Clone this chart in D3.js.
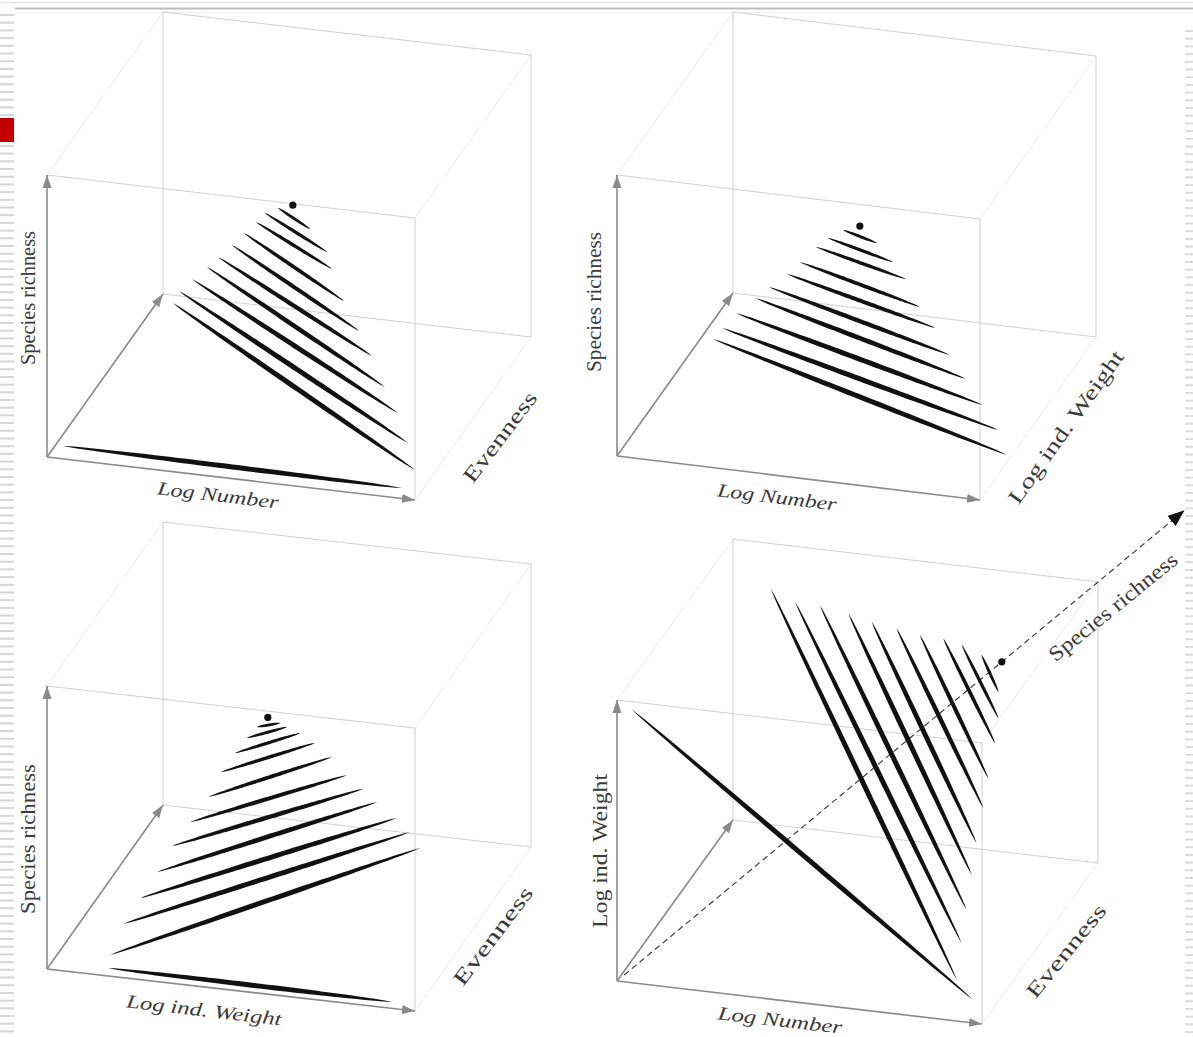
<!DOCTYPE html>
<html>
<head>
<meta charset="utf-8">
<script src="https://cdn.jsdelivr.net/npm/d3@7"></script>
<style>
  body { margin: 0; background: #fff; }
  svg { display: block; }
</style>
</head>
<body>
<svg id="chart" width="1193" height="1037"></svg>
<script>
// every point is [x, y, z] in percent of the box: x = front axis, y = vertical axis, z = depth axis

// panel 1 : Log Number / Species richness / Evenness
var p1Peak = [66.8, 99.5, 0]
var p1Lines = [
  [[62.8, 97.9, 0], [71.5, 91.7, 0]],
  [[59.2, 95.6, 0], [76.1, 84.3, 0]],
  [[56.8, 92.0, 0], [77.4, 78.5, 0]],
  [[53.5, 87.6, 0], [80.7, 67.6, 0]],
  [[50.3, 82.8, 0], [84.8, 57.6, 0]],
  [[46.5, 78.0, 0], [88.3, 49.3, 0]],
  [[43.5, 74.0, 0], [91.8, 38.8, 0]],
  [[39.4, 69.1, 0], [95.4, 30.1, 0]],
  [[35.9, 64.3, 0], [98.1, 19.9, 0]],
  [[34.2, 59.8, 0], [100.0, 10.6, 0]]
]
var p1Base = [[4.3, 4.6, 0], [96.5, 3.7, 0]]

// panel 2 : Log Number / Species richness / Log ind. Weight
var p2Peak = [66.9, 92.3, 0]
var p2Lines = [
  [[62.3, 90.2, 0], [71.6, 87.0, 0]],
  [[58.1, 86.7, 0], [76.0, 80.9, 0]],
  [[54.8, 83.0, 0], [79.6, 75.4, 0]],
  [[50.4, 76.9, 0], [83.5, 66.1, 0]],
  [[46.8, 72.1, 0], [87.6, 59.3, 0]],
  [[41.9, 66.7, 0], [91.7, 50.3, 0]],
  [[38.0, 62.2, 0], [96.1, 42.5, 0]],
  [[32.8, 56.0, 0], [100.8, 33.9, 0]],
  [[28.9, 50.1, 0], [105.0, 25.7, 0]],
  [[26.4, 45.8, 0], [107.4, 17.2, 0]]
]

// panel 3 : Log ind. Weight / Species richness / Evenness
var p3Peak = [60.0, 97.8, 0]
var p3Lines = [
  [[57.1, 94.0, 0], [63.3, 96.3, 0]],
  [[54.3, 89.7, 0], [65.2, 95.2, 0]],
  [[51.1, 83.9, 0], [68.8, 93.6, 0]],
  [[47.3, 76.6, 0], [72.8, 90.7, 0]],
  [[43.8, 67.3, 0], [77.4, 86.4, 0]],
  [[38.9, 57.7, 0], [81.5, 80.6, 0]],
  [[34.0, 48.5, 0], [85.9, 76.4, 0]],
  [[29.9, 38.7, 0], [89.7, 72.3, 0]],
  [[25.3, 28.8, 0], [95.1, 67.5, 0]],
  [[20.7, 19.0, 0], [98.6, 63.0, 0]],
  [[17.1, 7.5, 0], [101.4, 57.8, 0]]
]
var p3Base = [[16.6, 2.8, 0], [93.8, 2.3, 0]]

// panel 4 : Log Number / Log ind. Weight / Evenness, species richness on the diagonal
var p4Cross = [[4.0, 97.3, 0], [97.6, 8.2, 0]]
var p4Lines = [
  [[10.3, 84.0, 100], [93.1, 14.6, 0]],
  [[17.0, 80.3, 100], [94.4, 27.9, 0]],
  [[23.8, 80.1, 100], [95.8, 39.9, 0]],
  [[31.6, 78.4, 100], [97.2, 52.6, 0]],
  [[38.0, 76.4, 100], [98.5, 64.1, 0]],
  [[44.8, 75.1, 100], [100.4, 76.8, 0]],
  [[51.2, 73.7, 100], [101.7, 87.7, 0]],
  [[57.6, 73.5, 100], [103.6, 100.4, 0]],
  [[62.7, 71.9, 100], [104.5, 109.5, 0]],
  [[68.1, 69.1, 100], [104.5, 118.9, 0]]
]
var p4RichAxis = [[1.5, 1.5, 1.5], [118, 118, 118]]
var p4Peak = [80, 80, 80]

var axisNames = [
  ['Log Number', 'Species richness', 'Evenness'],
  ['Log Number', 'Species richness', 'Log ind. Weight'],
  ['Log ind. Weight', 'Species richness', 'Evenness'],
  ['Log Number', 'Log ind. Weight', 'Evenness']
]

// layout of the four boxes (oblique projection)
var panels = [
  { o: [47, 457], ex: [368, 43], h: 282, ez: [116, -163] },
  { o: [617, 456], ex: [363, 44], h: 281, ez: [116, -163] },
  { o: [47, 969], ex: [368, 42], h: 283, ez: [116, -164] },
  { o: [617, 981], ex: [365, 43], h: 281, ez: [116, -161] }
]

// label placement: [panel, axis index, cx, cy, angle, length, italic]
var labelPos = [
  [0, 1, 28, 298, -90, 134, false],
  [0, 0, 218, 495, 6.7, 122, true],
  [0, 2, 500, 437, -53, 108, false],
  [1, 1, 594, 302, -90, 140, false],
  [1, 0, 777, 497, 6.9, 120, true],
  [1, 2, 1066, 427, -54.5, 183, false],
  [2, 1, 28, 839, -90, 150, false],
  [2, 0, 204, 1010, 6.7, 156, true],
  [2, 2, 493, 936, -53, 118, false],
  [3, 1, 600, 851, -90, 154, false],
  [3, 0, 780, 1020, 6.7, 125, true],
  [3, 2, 1066, 951, -51, 114, false]
]

var svg = d3.select('#chart')
var defs = svg.append('defs')

defs.append('marker')
    .attr('id', 'grayHead')
    .attr('markerUnits', 'userSpaceOnUse')
    .attr('markerWidth', 14).attr('markerHeight', 10)
    .attr('refX', 13).attr('refY', 5)
    .attr('orient', 'auto')
    .append('path').attr('d', 'M0,0.5 L13,5 L0,9.5 Z').attr('fill', '#8a8a8a')

defs.append('marker')
    .attr('id', 'blackHead')
    .attr('markerUnits', 'userSpaceOnUse')
    .attr('markerWidth', 18).attr('markerHeight', 14)
    .attr('refX', 17).attr('refY', 7)
    .attr('orient', 'auto')
    .append('path').attr('d', 'M0,0.5 L17,7 L0,13.5 Z').attr('fill', '#111')

// slide frame: top rule, striped margins, red bullet
svg.append('line').attr('x1', 0).attr('x2', 1193).attr('y1', 2.5).attr('y2', 2.5)
    .attr('stroke', '#e2e2e2').attr('stroke-width', 1.5)
svg.append('line').attr('x1', 15).attr('x2', 1193).attr('y1', 8.5).attr('y2', 8.5)
    .attr('stroke', '#bdbdbd').attr('stroke-width', 2)
svg.append('line').attr('x1', 15).attr('x2', 1193).attr('y1', 12.5).attr('y2', 12.5)
    .attr('stroke', '#ececec').attr('stroke-width', 1)

svg.selectAll('.stripeL')
    .data(d3.range(14, 1037, 7.7))
    .join('rect')
    .attr('class', 'stripeL')
    .attr('x', 0).attr('width', 14)
    .attr('y', d => d).attr('height', 2)
    .attr('fill', '#d6d6d6')

svg.selectAll('.stripeR')
    .data(d3.range(30, 1037, 7.7))
    .join('rect')
    .attr('class', 'stripeR')
    .attr('x', 1185).attr('width', 8)
    .attr('y', d => d).attr('height', 2)
    .attr('fill', '#dcdcdc')

svg.append('rect').attr('x', 0).attr('y', 118).attr('width', 14).attr('height', 24)
    .attr('fill', '#c00000')

function projector(p) {
  var u = d3.scaleLinear().domain([0, 100]).range([0, 1])
  return function (d) {
    return [p.o[0] + u(d[0]) * p.ex[0] + u(d[2]) * p.ez[0],
            p.o[1] + u(d[0]) * p.ex[1] - u(d[1]) * p.h + u(d[2]) * p.ez[1]]
  }
}

// spindle shaped stroke: full width along most of the length, pointed at both ends
var outline = d3.line().curve(d3.curveLinearClosed)
function spindle(a, b) {
  var dx = b[0] - a[0], dy = b[1] - a[1], L = Math.hypot(dx, dy)
  var w = Math.min(5, 2.6 + L / 110)
  var nx = -dy / L, ny = dx / L
  var top = [], bottom = []
  d3.range(0, 1.0001, 1 / 48).forEach(function (s) {
    var hw = w / 2 * Math.pow(Math.sin(Math.PI * s), 0.55)
    var px = a[0] + dx * s, py = a[1] + dy * s
    top.push([px + nx * hw, py + ny * hw])
    bottom.push([px - nx * hw, py - ny * hw])
  })
  return outline(top.concat(bottom.reverse()))
}

var boxEdges = [
  [[0, 0, 100], [100, 0, 100]], [[0, 0, 100], [0, 100, 100]],
  [[0, 100, 100], [100, 100, 100]], [[100, 0, 100], [100, 100, 100]],
  [[0, 100, 0], [100, 100, 0]], [[100, 0, 0], [100, 100, 0]]
]
var faintEdges = [
  [[0, 100, 0], [0, 100, 100]], [[100, 100, 0], [100, 100, 100]], [[100, 0, 0], [100, 0, 100]]
]
var axes = [
  [[0, 0, 0], [100, 0, 0]], [[0, 0, 0], [0, 100, 0]], [[0, 0, 0], [0, 0, 100]]
]

var panelData = [
  { lines: p1Lines.concat([p1Base]), peak: p1Peak },
  { lines: p2Lines, peak: p2Peak },
  { lines: p3Lines.concat([p3Base]), peak: p3Peak },
  { lines: p4Lines.concat([p4Cross]), peak: p4Peak }
]

panels.forEach(function (p, i) {
  var proj = projector(p)
  var g = svg.append('g').attr('class', 'panel' + (i + 1))

  g.selectAll('.faint')
      .data(faintEdges)
      .join('line')
      .attr('class', 'faint')
      .attr('x1', d => proj(d[0])[0]).attr('y1', d => proj(d[0])[1])
      .attr('x2', d => proj(d[1])[0]).attr('y2', d => proj(d[1])[1])
      .attr('stroke', '#efefef').attr('stroke-width', 1)

  g.selectAll('.edge')
      .data(boxEdges)
      .join('line')
      .attr('class', 'edge')
      .attr('x1', d => proj(d[0])[0]).attr('y1', d => proj(d[0])[1])
      .attr('x2', d => proj(d[1])[0]).attr('y2', d => proj(d[1])[1])
      .attr('stroke', '#d0d0d0').attr('stroke-width', 1)

  g.selectAll('.axis')
      .data(axes)
      .join('line')
      .attr('class', 'axis')
      .attr('x1', d => proj(d[0])[0]).attr('y1', d => proj(d[0])[1])
      .attr('x2', d => proj(d[1])[0]).attr('y2', d => proj(d[1])[1])
      .attr('stroke', '#8a8a8a').attr('stroke-width', 1.6)
      .attr('marker-end', 'url(#grayHead)')

  if (i === 3) {
    g.append('line')
        .attr('x1', proj(p4RichAxis[0])[0]).attr('y1', proj(p4RichAxis[0])[1])
        .attr('x2', proj(p4RichAxis[1])[0]).attr('y2', proj(p4RichAxis[1])[1])
        .attr('stroke', '#333').attr('stroke-width', 1.1)
        .attr('stroke-dasharray', '6,4')
        .attr('marker-end', 'url(#blackHead)')
  }

  g.selectAll('.spindle')
      .data(panelData[i].lines)
      .join('path')
      .attr('class', 'spindle')
      .attr('d', d => spindle(proj(d[0]), proj(d[1])))
      .attr('fill', '#111')

  g.append('circle')
      .attr('cx', proj(panelData[i].peak)[0])
      .attr('cy', proj(panelData[i].peak)[1])
      .attr('r', 3.6)
      .attr('fill', '#111')
})

// axis titles
function addLabel(text, x, y, angle, len, italic) {
  svg.append('text')
      .attr('transform', 'translate(' + x + ',' + y + ') rotate(' + angle + ')')
      .attr('text-anchor', 'middle')
      .attr('dominant-baseline', 'central')
      .attr('font-family', '"Liberation Serif", "DejaVu Serif", serif')
      .attr('font-size', italic ? 19 : 21)
      .attr('font-style', italic ? 'italic' : 'normal')
      .attr('fill', '#3a3a3a')
      .attr('textLength', len)
      .attr('lengthAdjust', 'spacingAndGlyphs')
      .text(text)
}

labelPos.forEach(function (l) {
  addLabel(axisNames[l[0]][l[1]], l[2], l[3], l[4], l[5], l[6])
})

// the dashed richness axis of panel 4 has its own title
addLabel('Species richness', 1113, 607, -39, 159, false)
</script>
</body>
</html>
